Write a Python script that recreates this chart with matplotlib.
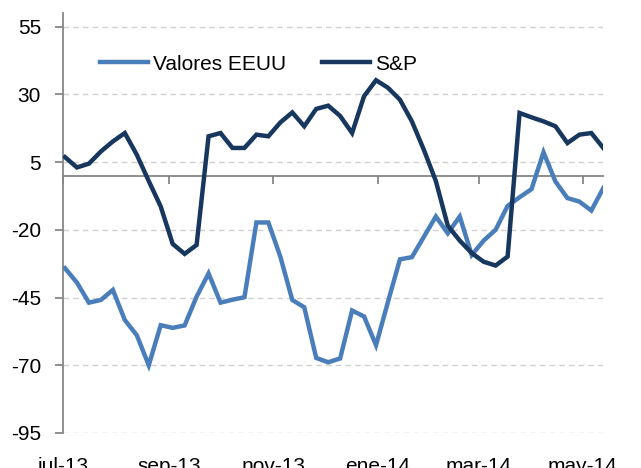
import matplotlib
matplotlib.use('Agg')
import matplotlib.pyplot as plt
import matplotlib.dates as mdates
import numpy as np
import pandas as pd

# weekly series, jul-13 .. may-14
fechas = pd.date_range('2013-07-02', periods=46, freq='7D')

valores_eeuu = [-34.2, -39.5, -46.9, -45.9, -42.2, -53.3, -58.9, -70.0, -55.2, -56.2,
                -55.3, -44.7, -36.1, -46.9, -45.8, -44.9, -17.3, -17.3, -29.9, -45.9,
                -48.6, -67.3, -68.9, -67.5, -49.8, -52.0, -62.6, -46.6, -30.9, -30.1,
                -22.6, -15.1, -21.3, -15.1, -29.3, -24.0, -20.0, -11.2, -8.0, -5.0,
                8.6, -2.2, -8.3, -9.6, -12.9, -4.6]

sp = [6.8, 3.0, 4.4, 8.9, 12.6, 15.7, 7.7, -2.0, -11.4, -25.2,
      -28.9, -25.6, 14.5, 15.7, 10.2, 10.2, 15.1, 14.5, 19.6, 23.3,
      18.2, 24.6, 25.8, 22.0, 15.7, 29.3, 35.2, 32.4, 28.0, 20.0,
      9.5, -2.0, -18.5, -24.0, -28.6, -31.8, -33.2, -29.9, 23.1, 21.5,
      20.0, 18.2, 12.0, 15.1, 15.7, 10.2]

y_ticks = [-95, -70, -45, -20, 5, 30, 55]
x_ticks = pd.to_datetime(['2013-07-01', '2013-09-01', '2013-11-01',
                          '2014-01-01', '2014-03-01', '2014-05-01'])
x_labels = ['jul-13', 'sep-13', 'nov-13', 'ene-14', 'mar-14', 'may-14']

plt.rcParams['font.family'] = ['Liberation Sans', 'DejaVu Sans']
plt.rcParams['axes.unicode_minus'] = False

fig = plt.figure(figsize=(6.41, 4.68), dpi=100)
ax = fig.add_axes([63.3/641, 35/468, 540/641, 420/468])

gris = '#868686'
ax.plot(fechas, valores_eeuu, color='#4A7EBB', lw=3.2, label='Valores EEUU',
        solid_joinstyle='miter', zorder=3)
ax.plot(fechas, sp, color='#17375E', lw=3.2, label='S&P',
        solid_joinstyle='miter', zorder=4)

ax.set_ylim(-95, 60)
ax.set_xlim(pd.Timestamp('2013-07-01'), fechas[-1])
ax.set_yticks(y_ticks)
ax.yaxis.grid(True, color='#d0d0d0', linestyle=(0, (4, 3)), lw=1)
ax.set_axisbelow(True)

for s in ['top', 'right']:
    ax.spines[s].set_visible(False)
ax.spines['left'].set_color(gris)
ax.spines['left'].set_linewidth(1.3)
ax.spines['left'].set_bounds(-95, 60)
ax.spines['bottom'].set_position(('data', 0))
ax.spines['bottom'].set_color(gris)
ax.spines['bottom'].set_linewidth(1.3)

ax.set_xticks(x_ticks)
ax.tick_params(axis='x', direction='out', length=6, color=gris, width=1.3,
               labelbottom=False)
ax.tick_params(axis='y', direction='out', length=6, color=gris, width=1.3,
               labelsize=15, pad=10)

# date labels at the bottom of the chart
sec = ax.secondary_xaxis('bottom')
sec.set_xticks(x_ticks)
sec.set_xticklabels(x_labels)
sec.spines['bottom'].set_visible(False)
sec.tick_params(length=0, labelsize=15, pad=17)

fig.legend(loc='center left', bbox_to_anchor=(100/641, 1 - 64/468), ncol=2,
           frameon=False, fontsize=15, handlelength=2.3, handletextpad=0.25,
           columnspacing=1.7, borderpad=0, borderaxespad=0)

plt.savefig('out.png', dpi=100)
